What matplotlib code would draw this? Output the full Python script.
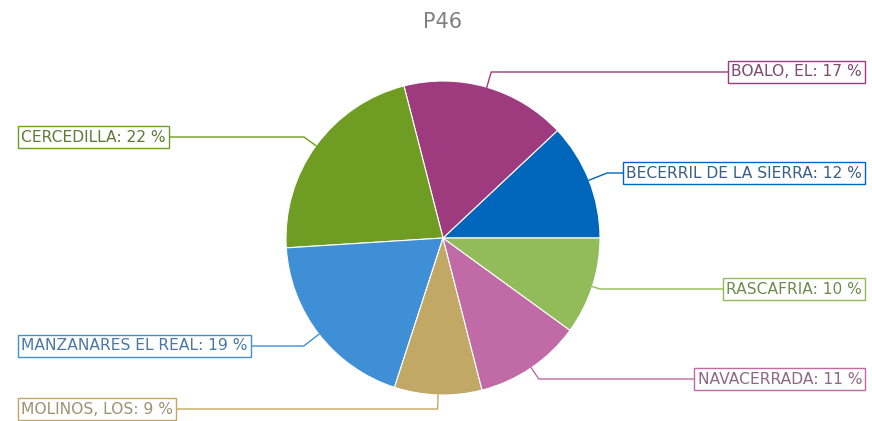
import numpy as np
import matplotlib
matplotlib.use("Agg")
import matplotlib.pyplot as plt

title = "P46"
categories = ["BECERRIL DE LA SIERRA", "BOALO, EL", "CERCEDILLA", "MANZANARES EL REAL",
              "MOLINOS, LOS", "NAVACERRADA", "RASCAFRIA"]
values = [12, 17, 22, 19, 9, 11, 10]
colors = ["#0066bb", "#9e3b7e", "#6f9c23", "#3f8fd6", "#c2a865", "#c06aa6", "#92bb5a"]
text_colors = ["#3a5f86", "#7e4a6f", "#5f7a35", "#4a78a6", "#9d9272", "#8e6784", "#6f8a4f"]

W, H = 872, 421
fig = plt.figure(figsize=(W / 100, H / 100), dpi=100)
ax = fig.add_axes([0, 0, 1, 1])

cx, cy, R = 443, H - 238, 157
wedges, _ = ax.pie(values, colors=colors, startangle=0, counterclock=True,
                   center=(cx, cy), radius=R, frame=True,
                   wedgeprops=dict(edgecolor="white", linewidth=0.8))
ax.set_xlim(0, W)
ax.set_ylim(0, H)
ax.axis("off")

# label layout: (side, box y in pixels from top)
layout = [("right", 173), ("right", 72), ("left", 137), ("left", 346),
          ("left", 409), ("right", 379), ("right", 289)]

for w, cat, v, col, tcol, (side, ypx) in zip(wedges, categories, values, colors, text_colors, layout):
    ang = np.deg2rad((w.theta1 + w.theta2) / 2)
    ex, ey = cx + R * np.cos(ang), cy + R * np.sin(ang)
    ly = H - ypx
    t = (ly - ey) / np.sin(ang) if abs(np.sin(ang)) > 1e-6 else 15
    kx = ex + t * np.cos(ang)
    if side == "right":
        tx, ha, endx = 862, "right", 862
    else:
        tx, ha, endx = 21, "left", 21
    ax.plot([ex, kx, endx], [ey, ly, ly], color=col, lw=1, zorder=3)
    ax.text(tx, ly, f"{cat}: {v} %", ha=ha, va="center", fontsize=11.2, color=tcol,
            zorder=5,
            bbox=dict(boxstyle="square,pad=0.22", facecolor="white", edgecolor=col, lw=1))

ax.text(cx, H - 22, title, ha="center", va="center", fontsize=15, color="#808080")

fig.savefig("out.png", dpi=100)
